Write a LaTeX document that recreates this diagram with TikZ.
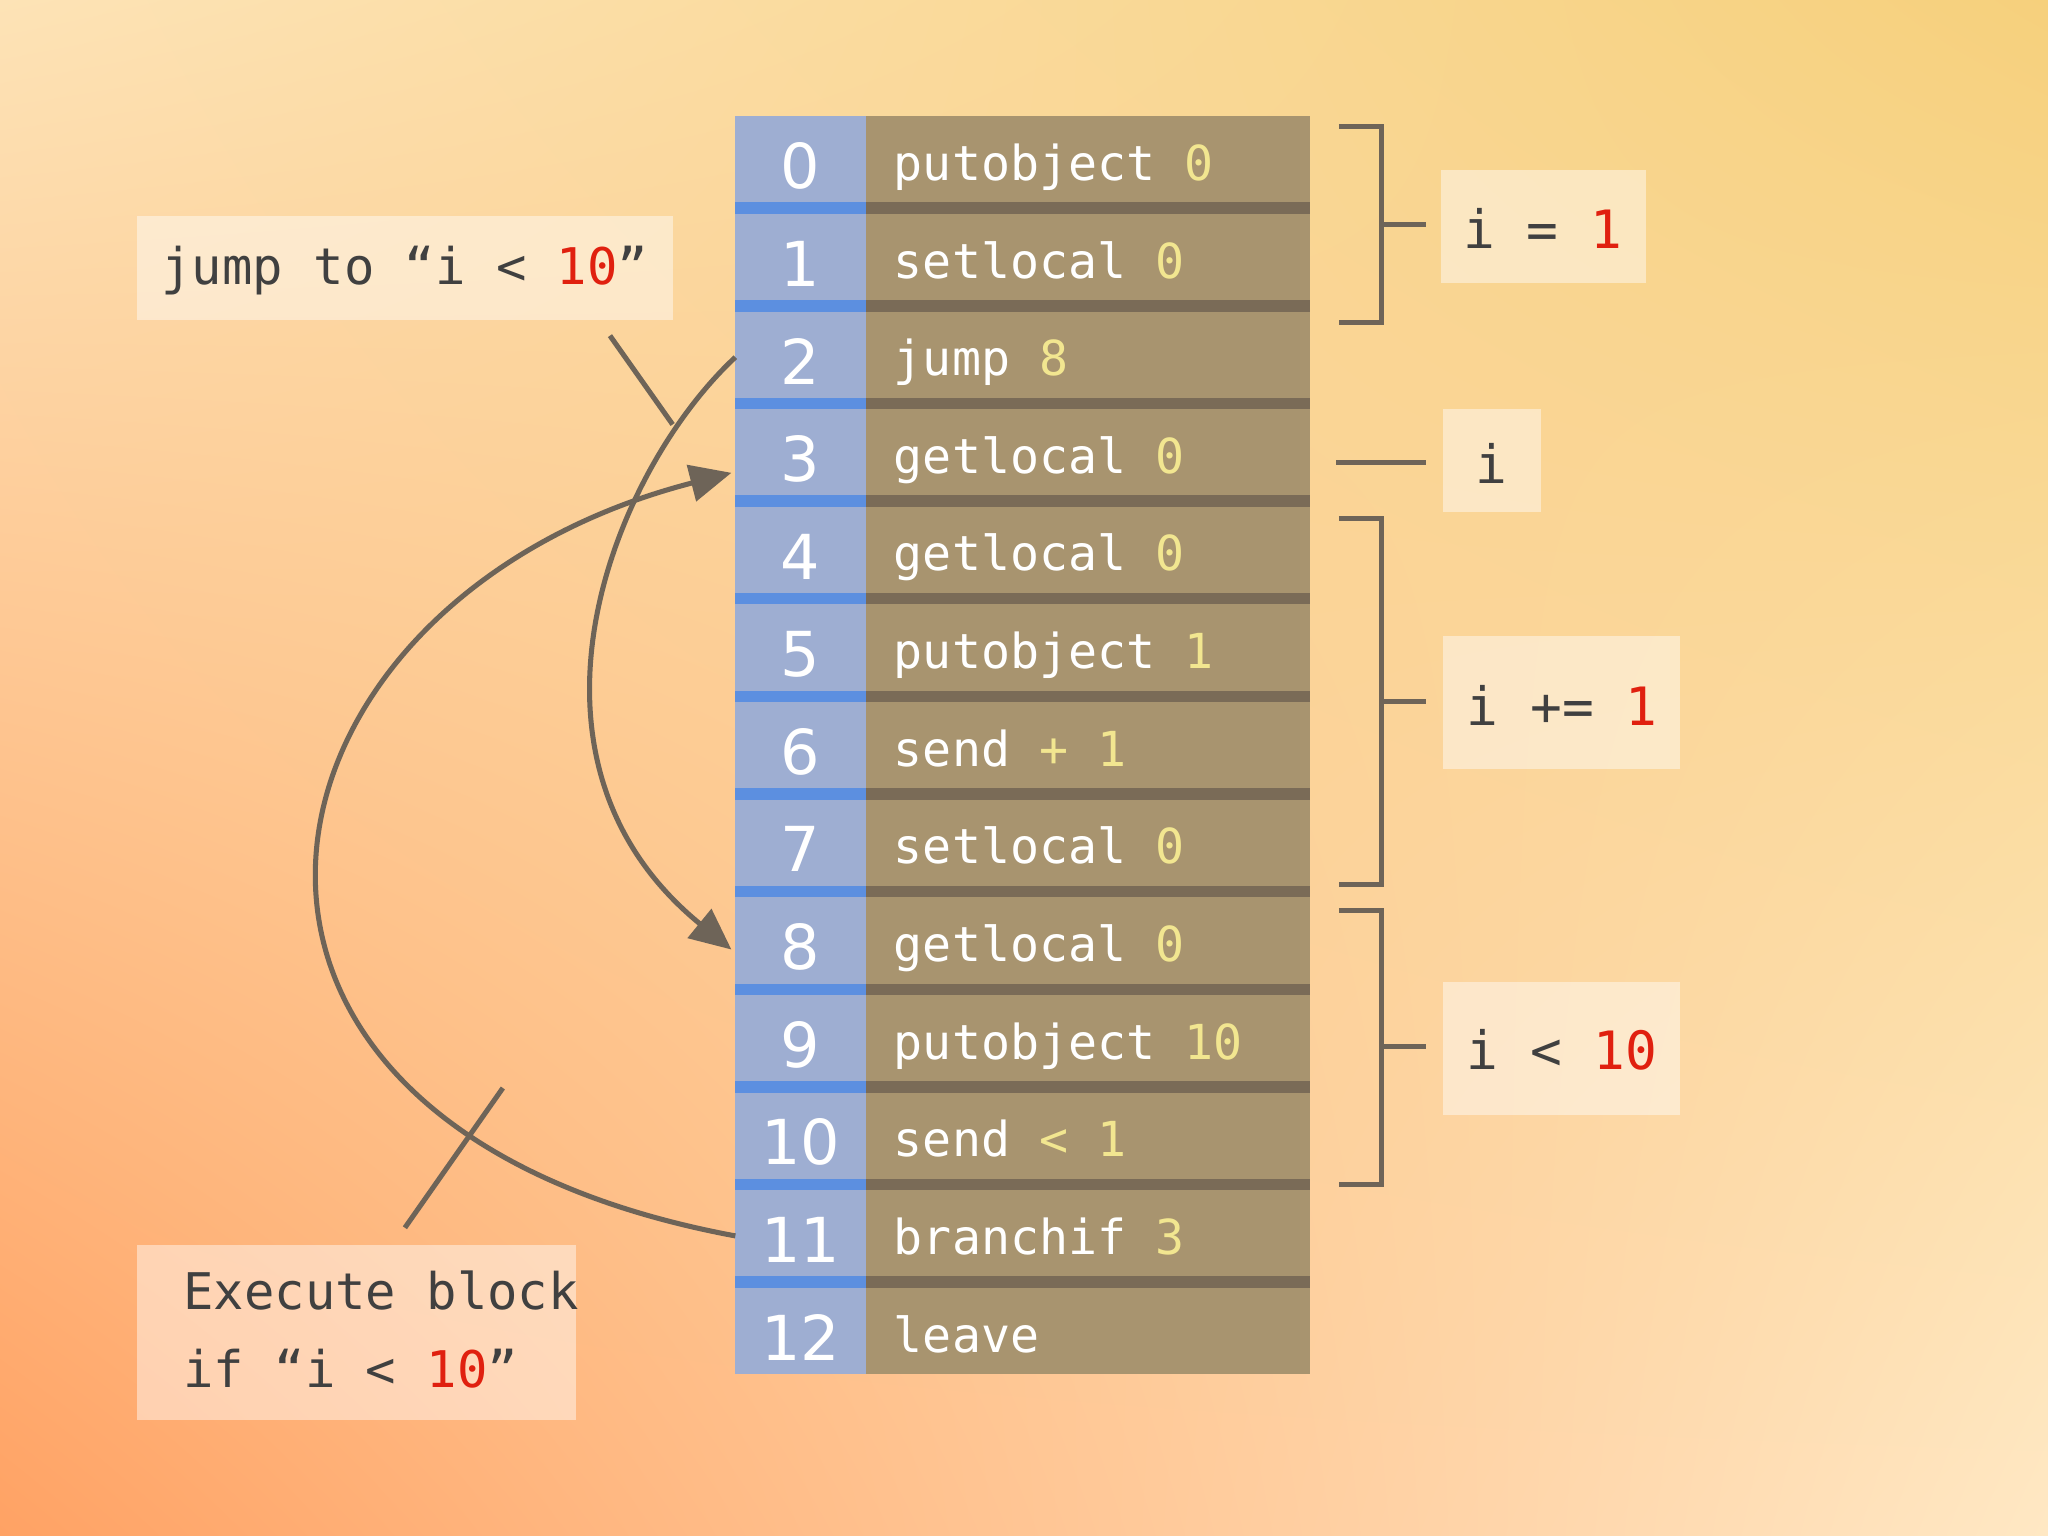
\documentclass[tikz,border=0pt]{standalone}
\usepackage{fontspec}
\setmainfont{DejaVu Sans}
\setmonofont{DejaVu Sans Mono}
\usetikzlibrary{arrows.meta,shadings}
\definecolor{idxc}{HTML}{9EAED2}
\definecolor{idxsep}{HTML}{5C8FE0}
\definecolor{mainc}{HTML}{A8946F}
\definecolor{mainsep}{HTML}{7A6B57}
\definecolor{argc}{HTML}{F2E690}
\definecolor{redc}{HTML}{E0200F}
\definecolor{linec}{HTML}{6E6458}
\definecolor{bgul}{HTML}{FDE3B6}
\definecolor{bgur}{HTML}{F6D07C}
\definecolor{bgll}{HTML}{FFA264}
\definecolor{bglr}{HTML}{FFE8C4}
\tikzset{
  lbl/.style={fill=white,fill opacity=0.45},
  conn/.style={draw=linec,line width=1.1pt},
  brk/.style={draw=linec,line width=1.1pt},
  arr/.style={conn,-{Triangle[length=9pt,width=8pt]}},
  ltxt/.style={font=\ttfamily\fontsize{11.5}{13}\selectfont,text=black!75}
}
\begin{document}
\begin{tikzpicture}[x=0.01cm,y=-0.01cm]
\shade[upper left=bgul,upper right=bgur,lower left=bgll,lower right=bglr] (0,0) rectangle (1568,1176);
\useasboundingbox (0,0) rectangle (1568,1176);
% table
\foreach \i/\op/\ar in {0/putobject/0,1/setlocal/0,2/jump/8,3/getlocal/0,4/getlocal/0,5/putobject/1,6/send \textcolor{argc}{+}/1,7/setlocal/0,8/getlocal/0,9/putobject/10,10/send \textcolor{argc}{<}/1,11/branchif/3,12/leave/} {
  \pgfmathsetmacro{\t}{89+74.75*\i}
  \fill[idxc] (563,\t) rectangle (663,\t+66);
  \fill[mainc] (663,\t) rectangle (1003,\t+66);
  \ifnum\i<12
    \fill[idxsep] (563,\t+66) rectangle (663,\t+74.75);
    \fill[mainsep] (663,\t+66) rectangle (1003,\t+74.75);
  \fi
  \node[font=\fontsize{13.5}{15}\selectfont,text=white] (i\i) at (613,\t+38) {\i};
  \node[anchor=west,font=\ttfamily\fontsize{10.5}{13}\selectfont,text=white] (o\i) at (672,\t+40) {\strut\op\ \textcolor{argc}{\ar}};
  \coordinate (L\i) at (563,\t+35);
}
% brackets
\draw[brk] (1025,97) -- (1058,97) -- (1058,247) -- (1025,247);
\draw[brk] (1058,172) -- (1092,172);
\draw[brk] (1023,354) -- (1092,354);
\draw[brk] (1025,397) -- (1058,397) -- (1058,677) -- (1025,677);
\draw[brk] (1058,537) -- (1092,537);
\draw[brk] (1025,697) -- (1058,697) -- (1058,907) -- (1025,907);
\draw[brk] (1058,801) -- (1092,801);
% right labels
\fill[lbl] (1103,130) rectangle (1260,217);
\node[ltxt] (a) at (1181,175) {i = \textcolor{redc}{1}};
\fill[lbl] (1105,313) rectangle (1180,392);
\node[ltxt] (b) at (1142,355) {i};
\fill[lbl] (1105,487) rectangle (1286,589);
\node[ltxt] (c) at (1196,540) {i += \textcolor{redc}{1}};
\fill[lbl] (1105,752) rectangle (1286,854);
\node[ltxt] (d) at (1196,804) {i < \textcolor{redc}{10}};
% left labels
\fill[lbl] (105,165) rectangle (515,245);
\node[ltxt,font=\ttfamily\fontsize{11}{13}\selectfont] (j) at (310,207) {jump to “i < \textcolor{redc}{10}”};
\fill[lbl] (105,953) rectangle (441,1087);
\node[ltxt,anchor=west,align=left,font=\ttfamily\fontsize{11}{17}\selectfont] (e) at (128,1018) {Execute block\\if “i < \textcolor{redc}{10}”};
% curves
\draw[arr] (L2) .. controls (470,360) and (380,580) .. (560,727);
\draw[arr] (L11) .. controls (100,860) and (180,460) .. (560,362);
\coordinate (p1) at (467,257);
\coordinate (p2) at (515,325);
\draw[conn] (p1) -- (p2);
\coordinate (q1) at (310,940);
\coordinate (q2) at (385,833);
\draw[conn] (q1) -- (q2);
\end{tikzpicture}
\end{document}
